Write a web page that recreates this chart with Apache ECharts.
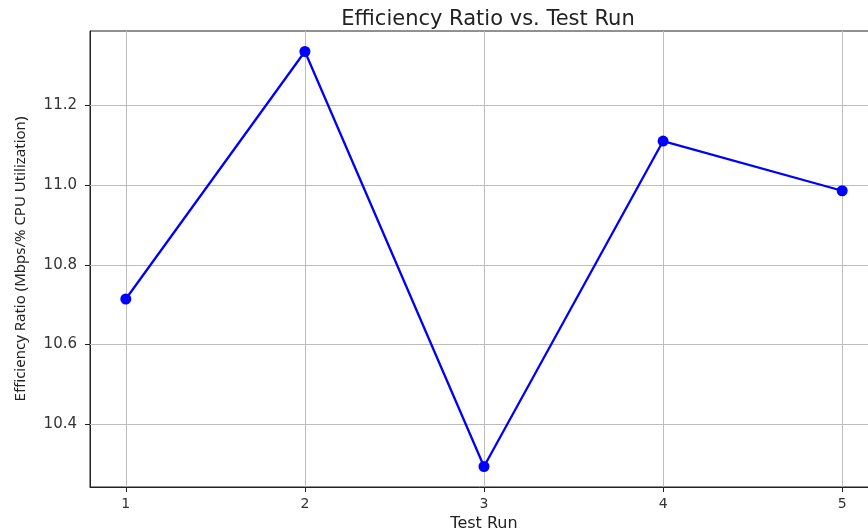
<!DOCTYPE html>
<html>
<head>
<meta charset="utf-8">
<script src="https://cdn.jsdelivr.net/npm/echarts@6/dist/echarts.min.js"></script>
<style>html,body{margin:0;padding:0;background:#fff;}#c{width:868px;height:529px;}</style>
</head>
<body>
<div id="c"></div>
<script>
const testRuns = [1, 2, 3, 4, 5];
const efficiency = [10.714, 11.336, 10.293, 11.111, 10.986];
const yTicks = [10.4, 10.6, 10.8, 11.0, 11.2];
const xTicks = [1, 2, 3, 4, 5];
const titleText = 'Efficiency Ratio vs. Test Run';
const xName = 'Test Run';
const yName = 'Efficiency Ratio (Mbps/% CPU Utilization)';

const chart = echarts.init(document.getElementById('c'), null, {renderer: 'canvas'});
const gridColor = '#bdbdbd';
chart.setOption({
  animation: false,
  title: {
    text: titleText, left: 483, top: 4, textAlign: 'center',
    textStyle: {fontFamily: 'DejaVu Sans', fontSize: 21, fontWeight: 'normal', color: '#222'}
  },
  grid: {left: 90, right: -10, top: 31, bottom: 42, outerBoundsMode: 'none', containLabel: false,
    show: true, borderColor: '#222', borderWidth: 1},
  xAxis: {
    type: 'value', min: 0.8, max: 5.2,
    name: xName, nameLocation: 'middle', nameGap: 26,
    nameTextStyle: {fontFamily: 'DejaVu Sans', fontSize: 16, color: '#222'},
    axisLine: {show: true, onZero: false, lineStyle: {color: '#222', width: 1}},
    axisTick: {show: true, length: 5, customValues: xTicks, lineStyle: {color: '#222'}},
    axisLabel: {customValues: xTicks, margin: 10, fontFamily: 'DejaVu Sans', fontSize: 14, color: '#333'},
    splitLine: {show: false}
  },
  yAxis: {
    type: 'value', min: 10.2415, max: 11.3875,
    name: yName, nameLocation: 'middle', nameGap: 62, nameRotate: 90,
    nameTextStyle: {fontFamily: 'Noto Sans', fontSize: 15, color: '#222'},
    axisLine: {show: true, onZero: false, lineStyle: {color: '#222', width: 1}},
    axisTick: {show: true, length: 5, customValues: yTicks, lineStyle: {color: '#222'}},
    axisLabel: {customValues: yTicks, margin: 13, fontFamily: 'DejaVu Sans', fontSize: 15, color: '#333',
      formatter: v => v.toFixed(1)},
    splitLine: {show: false}
  },
  series: [{
    type: 'line',
    data: testRuns.map((x, i) => [x, efficiency[i]]),
    symbol: 'circle', symbolSize: 11,
    itemStyle: {color: '#0000ff'},
    lineStyle: {color: '#0000ff', width: 2.3},
    z: 5,
    markLine: {
      silent: true, symbol: 'none', label: {show: false}, animation: false,
      lineStyle: {color: gridColor, width: 1, type: 'solid'},
      data: xTicks.map(v => ({xAxis: v})).concat(yTicks.map(v => ({yAxis: v})))
    }
  }]
});
</script>
</body>
</html>
